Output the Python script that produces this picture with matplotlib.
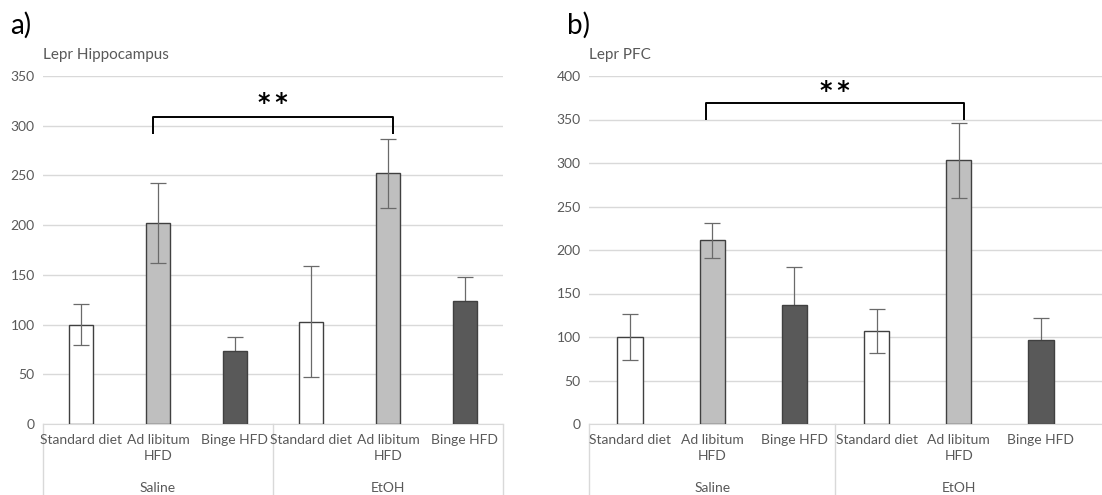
import numpy as np
import matplotlib.pyplot as plt
from matplotlib.lines import Line2D

# data
diets = ["Standard diet", "Ad libitum\nHFD", "Binge HFD"]
groups = ["Saline", "EtOH"]

hippo_vals = [100, 202, 73, 103, 252, 124]
hippo_err = [21, 40, 14, 56, 35, 24]
pfc_vals = [100, 211, 137, 107, 303, 97]
pfc_err = [26, 20, 44, 25, 43, 25]

bar_colors = ["white", "#bfbfbf", "#595959"] * 2
grey_txt = "#595959"
grid_col = "#d9d9d9"

plt.rcParams["font.family"] = ["Lato", "DejaVu Sans"]

fig = plt.figure(figsize=(11.02, 4.95), dpi=100)
# left panel: 43..503 px, right panel: 589..1102 px (cut at image edge)
ax1 = fig.add_axes([43 / 1102, 1 - 424 / 495, 460 / 1102, 348 / 495])
ax2 = fig.add_axes([589 / 1102, 1 - 424 / 495, 513 / 1102, 348 / 495])


def draw_panel(ax, vals, errs, ymax, title, br_low, br_high, star_y, xmax, seps):
    x = np.arange(len(vals))
    vals = np.array(vals)
    errs = np.array(errs)
    ax.bar(x, vals, 0.31, color=bar_colors, edgecolor="#404040", linewidth=1, zorder=2)
    # the lower whisker is hidden inside the dark bars in the original
    dark = np.array([c == "#595959" for c in bar_colors])
    for sel, z in [(~dark, 3), (dark, 1.5)]:
        ax.errorbar(x[sel], vals[sel], yerr=errs[sel], fmt="none", ecolor="#6a6a6a",
                    elinewidth=0.9, capsize=6, capthick=0.9, zorder=z)
    ax.set_xlim(-0.5, xmax)
    ax.set_ylim(0, ymax)
    ax.set_yticks(np.arange(0, ymax + 1, 50))
    ax.yaxis.grid(True, color=grid_col, linewidth=1)
    ax.set_axisbelow(True)
    for s in ["top", "right", "left"]:
        ax.spines[s].set_visible(False)
    ax.spines["bottom"].set_color(grid_col)
    ax.spines["bottom"].set_zorder(1)
    ax.tick_params(axis="y", length=0, labelsize=10, labelcolor=grey_txt, pad=6)
    ax.set_xticks([])

    # two-level category axis
    tr = ax.get_xaxis_transform()
    for i, xi in enumerate(x):
        ax.text(xi, -0.03, diets[i % 3], transform=tr, ha="center", va="top",
                fontsize=10, color=grey_txt, linespacing=1.35)
    for g, name in enumerate(groups):
        ax.text(x[3 * g + 1], -0.184, name, transform=tr, ha="center", va="center",
                fontsize=10, color=grey_txt)
    for sep in seps:
        ax.add_line(Line2D([sep, sep], [0, -0.21], transform=tr, color=grid_col,
                           linewidth=1, clip_on=False))

    # significance bracket between the two ad libitum bars
    bx0, bx1 = x[1] - 0.07, x[4] + 0.06
    ax.plot([bx0, bx0, bx1, bx1], [br_low, br_high, br_high, br_low], color="black",
            linewidth=1.4, solid_joinstyle="round", solid_capstyle="butt", zorder=4)
    ax.text((bx0 + bx1) / 2, star_y, "*\u2009*", ha="center", va="center", fontsize=17,
            fontweight="bold", family="DejaVu Sans", color="black")

    ax.text(0, 1.06, title, transform=ax.transAxes, ha="left", va="center",
            fontsize=11, color=grey_txt)


draw_panel(ax1, hippo_vals, hippo_err, 350, "Lepr Hippocampus", 292, 309, 323, 5.5,
           [-0.5, 2.5, 5.5])
draw_panel(ax2, pfc_vals, pfc_err, 400, "Lepr PFC", 350, 369, 383, 5.5 + 20 / 82,
           [-0.5, 2.5])

fig.text(10 / 1102, 1 - 25 / 495, "a)", fontsize=20, ha="left", va="center", color="black")
fig.text(567 / 1102, 1 - 25 / 495, "b)", fontsize=20, ha="left", va="center", color="black")

fig.savefig("out.png", dpi=100)
